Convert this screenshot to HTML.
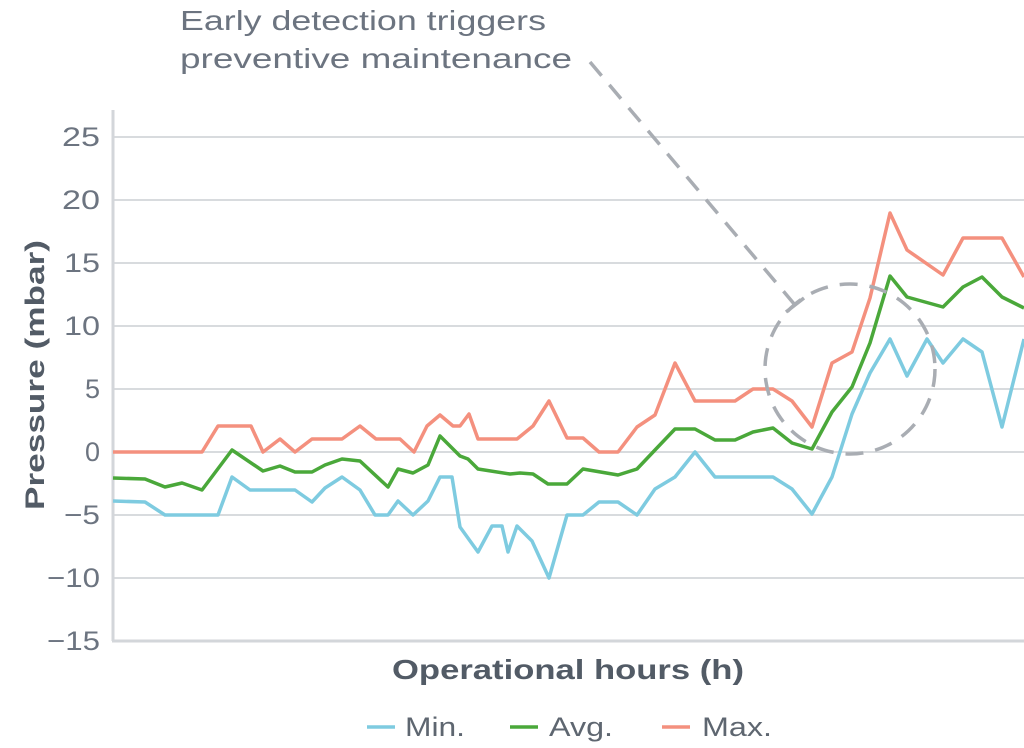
<!DOCTYPE html>
<html><head><meta charset="utf-8"><style>
html,body{margin:0;padding:0;background:#fff;}
svg{display:block;font-family:"Liberation Sans",sans-serif;}
</style></head><body>
<svg width="1024" height="748" viewBox="0 0 1024 748">
<g stroke="#d8dbde" stroke-width="2">
<line x1="113" y1="137" x2="1024" y2="137"/>
<line x1="113" y1="200" x2="1024" y2="200"/>
<line x1="113" y1="263" x2="1024" y2="263"/>
<line x1="113" y1="326" x2="1024" y2="326"/>
<line x1="113" y1="389" x2="1024" y2="389"/>
<line x1="113" y1="452" x2="1024" y2="452"/>
<line x1="113" y1="515" x2="1024" y2="515"/>
<line x1="113" y1="578" x2="1024" y2="578"/>
</g>
<line x1="113" y1="110" x2="113" y2="641" stroke="#d3d6da" stroke-width="3"/>
<line x1="112" y1="641" x2="1024" y2="641" stroke="#d3d6da" stroke-width="3"/>
<g fill="#6c7480" font-size="27" text-anchor="end">
<text x="100" y="146" textLength="38" lengthAdjust="spacingAndGlyphs">25</text>
<text x="100" y="209" textLength="38" lengthAdjust="spacingAndGlyphs">20</text>
<text x="100" y="272" textLength="36" lengthAdjust="spacingAndGlyphs">15</text>
<text x="100" y="335" textLength="36" lengthAdjust="spacingAndGlyphs">10</text>
<text x="100" y="398">5</text>
<text x="100" y="461">0</text>
<text x="100" y="524" textLength="36" lengthAdjust="spacingAndGlyphs">−5</text>
<text x="100" y="587" textLength="53" lengthAdjust="spacingAndGlyphs">−10</text>
<text x="100" y="650" textLength="53" lengthAdjust="spacingAndGlyphs">−15</text>
</g>
<text transform="translate(44,375) rotate(-90)" text-anchor="middle" font-size="27" font-weight="bold" fill="#525b66" textLength="270" lengthAdjust="spacingAndGlyphs">Pressure (mbar)</text>
<text x="568" y="679" text-anchor="middle" font-size="28" font-weight="bold" fill="#525b66" textLength="352" lengthAdjust="spacingAndGlyphs">Operational hours (h)</text>
<g fill="none" stroke-width="3.5" stroke-linejoin="round">
<polyline stroke="#f4907e" points="113,452 202,452 218,426 251,426 263,452 280,439 295,452 312,439 342,439 360,426 376,439 400,439 414,452 427,426 440,415 453,426 460,426 469,414 478,439 517,439 533,426 549,401 567,438 583,438 599,452 618,452 637,427 655,415 675,363 695,401 735,401 753,389 773,389 792,401 812,427 832,363 852,352 870,298 890,213 907,250 943,275 963,238 1002,238 1024,277"/>
<polyline stroke="#4aa83a" points="113,478 145,479 165,487 182,483 202,490 232,450 263,471 280,466 295,472 312,472 325,465 342,459 360,461 388,487 398,469 413,473 428,465 440,436 460,456 468,459 478,469 510,474 520,473 533,474 548,484 567,484 583,469 618,475 637,469 655,450 675,429 695,429 715,440 735,440 753,432 773,428 792,443 812,449 832,412 852,387 870,343 890,276 907,297 943,307 963,287 982,277 1002,297 1024,308"/>
<polyline stroke="#7ecbe0" points="113,501 145,502 165,515 218,515 232,477 250,490 295,490 312,502 325,488 342,477 360,490 375,515 388,515 398,501 413,515 428,501 440,477 452,477 460,527 478,552 492,526 502,526 508,552 517,526 532,541 549,578 567,515 583,515 599,502 618,502 637,515 655,489 675,477 695,452 715,477 773,477 792,489 812,514 832,477 852,414 870,373 890,339 907,376 927,339 943,363 963,339 982,352 1002,427 1024,339"/>
</g>
<g fill="none" stroke="#a9adb3" stroke-width="3.5" stroke-dasharray="18,12">
<circle cx="850" cy="369" r="85"/>
<line x1="590" y1="62" x2="795" y2="305"/>
</g>
<line x1="786" y1="312" x2="804" y2="298" stroke="#a9adb3" stroke-width="3.5"/>
<g fill="#6c7480" font-size="28">
<text x="180" y="30" textLength="366" lengthAdjust="spacingAndGlyphs">Early detection triggers</text>
<text x="180" y="68" textLength="392" lengthAdjust="spacingAndGlyphs">preventive maintenance</text>
</g>
<g font-size="27" fill="#5e6670">
<line x1="367" y1="727" x2="395" y2="727" stroke="#7ecbe0" stroke-width="3.5"/>
<text x="405" y="736" textLength="60" lengthAdjust="spacingAndGlyphs">Min.</text>
<line x1="510" y1="727" x2="538" y2="727" stroke="#4aa83a" stroke-width="3.5"/>
<text x="549" y="736" textLength="64" lengthAdjust="spacingAndGlyphs">Avg.</text>
<line x1="662" y1="727" x2="690" y2="727" stroke="#f4907e" stroke-width="3.5"/>
<text x="702" y="736" textLength="70" lengthAdjust="spacingAndGlyphs">Max.</text>
</g>
</svg>
</body></html>
